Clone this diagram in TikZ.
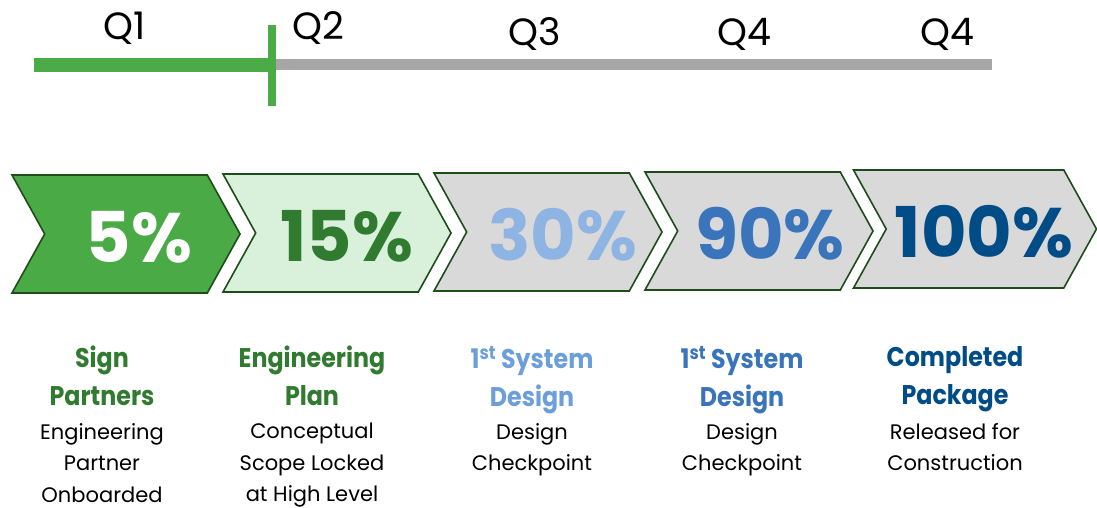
\documentclass[tikz,border=0pt]{standalone}
\usepackage{fontspec}
\setmainfont{Poppins}
\newfontfamily\headfont[FakeStretch=0.88]{Poppins}
\usetikzlibrary{shapes.symbols,positioning}
\definecolor{lineGreen}{HTML}{4AAB47}
\definecolor{lineGray}{HTML}{A6A6A6}
\definecolor{edgeGreen}{HTML}{1E4D1B}
\definecolor{fillGreen}{HTML}{4AAB46}
\definecolor{fillMint}{HTML}{D9F1DA}
\definecolor{fillGray}{HTML}{D9D9D9}
\definecolor{darkGreen}{HTML}{317B31}
\definecolor{paleBlue}{HTML}{8DB4E2}
\definecolor{skyBlue}{HTML}{6C9FDA}
\definecolor{midBlue}{HTML}{3A74BA}
\definecolor{navyBlue}{HTML}{004C87}
\tikzstyle{chevron}=[signal, signal from=west, signal to=east, signal pointer angle=122, draw=edgeGreen, line width=1.6pt, minimum width=228pt, minimum height=118pt, inner sep=0pt]
\tikzstyle{pct}=[font=\fontsize{70}{70}\selectfont\bfseries, inner sep=0pt]
\tikzstyle{quarter}=[font=\fontsize{38}{38}\selectfont, inner sep=0pt, anchor=base]
\tikzstyle{title}=[font=\headfont\bfseries\fontsize{27}{38}\selectfont, align=center, anchor=north, inner sep=0pt]
\tikzstyle{body}=[font=\fontsize{21}{31.5}\selectfont, align=center, anchor=north, inner sep=0pt]
\begin{document}
\begin{tikzpicture}[x=1pt, y=-1pt]
    \useasboundingbox (0,0) rectangle (1097,508);

    % timeline
    \coordinate (tStart) at (34,65);
    \coordinate (tNow) at (272,65);
    \coordinate (tEnd) at (992,65);
    \coordinate (tickTop) at (272,25);
    \coordinate (tickBot) at (272,106);
    \draw[lineGray, line width=11pt] (tNow) -- (tEnd);
    \draw[lineGreen, line width=14pt] (tStart) -- (tNow);
    \draw[lineGreen, line width=8pt] (tickTop) -- (tickBot);

    % quarters
    \node[quarter] (q1) at (125,40) {Q1};
    \node[quarter] (q2) at (318,40) {Q2};
    \node[quarter] (q3) at (535,46) {Q3};
    \node[quarter] (q4a) at (744,46) {Q4};
    \node[quarter] (q4b) at (947,46) {Q4};

    % chevrons
    \node[chevron, fill=fillGreen] (c1) at (126,234) {};
    \node[chevron, fill=fillMint] (c2) at (337,233) {};
    \node[chevron, fill=fillGray] (c3) at (548,232) {};
    \node[chevron, fill=fillGray] (c4) at (759,231) {};
    \node[chevron, fill=fillGray, minimum width=243pt] (c5) at (975,229) {};

    % percentages
    \node[pct, text=white] (p1) at ([xshift=13pt,yshift=-3pt]c1.center) {5\%};
    \node[pct, text=darkGreen] (p2) at ([xshift=10pt,yshift=-3pt]c2.center) {15\%};
    \node[pct, text=paleBlue] (p3) at ([xshift=15pt,yshift=-3pt]c3.center) {30\%};
    \node[pct, text=midBlue] (p4) at ([xshift=11pt,yshift=-3pt]c4.center) {90\%};
    \node[pct, text=navyBlue] (p5) at ([xshift=9pt,yshift=-3pt]c5.center) {100\%};

    % milestones
    \node[title, text=darkGreen] (m1) at (102,346) {Sign\\Partners};
    \node[body] (b1) at (102,423) {Engineering\\Partner\\Onboarded};
    \node[title, text=darkGreen] (m2) at (312,346) {Engineering\\Plan};
    \node[body] (b2) at (312,423) {Conceptual\\Scope Locked\\at High Level};
    \node[title, text=skyBlue] (m3) at (532,346) {1\textsuperscript{st} System\\Design};
    \node[body] (b3) at (532,423) {Design\\Checkpoint};
    \node[title, text=midBlue] (m4) at (742,346) {1\textsuperscript{st} System\\Design};
    \node[body] (b4) at (742,423) {Design\\Checkpoint};
    \node[title, text=navyBlue] (m5) at (955,346) {Completed\\Package};
    \node[body] (b5) at (955,423) {Released for\\Construction};
\end{tikzpicture}
\end{document}
